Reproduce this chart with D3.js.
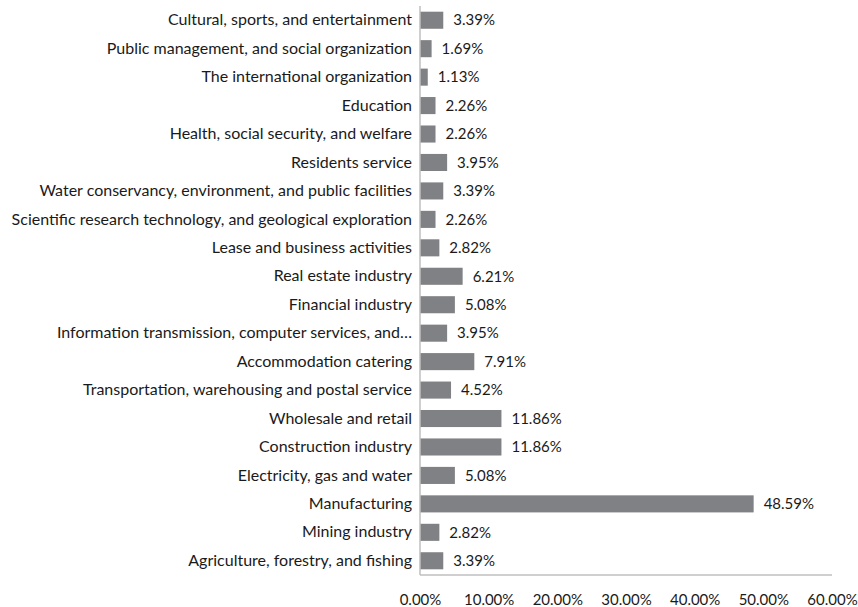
<!DOCTYPE html>
<html>
<head>
<meta charset="utf-8">
<script src="https://cdn.jsdelivr.net/npm/d3@7"></script>
<style>
  html, body { margin: 0; padding: 0; background: #fff; }
  text { font-family: Lato, "Open Sans", sans-serif; }
</style>
</head>
<body>
<svg id="chart" width="858" height="607"></svg>
<script>
// Industry categories, listed bottom to top as drawn
const categories = [
  "Agriculture, forestry, and fishing",
  "Mining industry",
  "Manufacturing",
  "Electricity, gas and water",
  "Construction industry",
  "Wholesale and retail",
  "Transportation, warehousing and postal service",
  "Accommodation catering",
  "Information transmission, computer services, and…",
  "Financial industry",
  "Real estate industry",
  "Lease and business activities",
  "Scientific research technology, and geological exploration",
  "Water conservancy, environment, and public facilities",
  "Residents service",
  "Health, social security, and welfare",
  "Education",
  "The international organization",
  "Public management, and social organization",
  "Cultural, sports, and entertainment"
];
// Share of each industry, in percent
const shares = [3.39, 2.82, 48.59, 5.08, 11.86, 11.86, 4.52, 7.91, 3.95, 5.08,
                6.21, 2.82, 2.26, 3.39, 3.95, 2.26, 2.26, 1.13, 1.69, 3.39];
const xTicks = [0, 10, 20, 30, 40, 50, 60];

const svg = d3.select("#chart");
const plotLeft = 420, plotRight = 832, plotTop = 6, plotBottom = 575;
const ink = "#1a1a1a";

const x = d3.scaleLinear().domain([0, 60]).range([plotLeft, plotRight]);
const y = d3.scaleBand()
  .domain(categories.slice().reverse())
  .range([plotTop, plotBottom])
  .paddingInner(0.4)
  .paddingOuter(0.2);

const rows = categories.map((c, i) => ({ c, v: shares[i] }));

// bars
svg.append("g").selectAll("rect").data(rows).join("rect")
  .attr("x", x(0))
  .attr("y", d => y(d.c))
  .attr("width", d => x(d.v) - x(0))
  .attr("height", y.bandwidth())
  .attr("fill", "#808184");

// value labels
svg.append("g").selectAll("text").data(rows).join("text")
  .attr("x", d => x(d.v) + 10)
  .attr("y", d => y(d.c) + y.bandwidth() / 2)
  .attr("dy", "0.35em")
  .attr("font-size", 15)
  .attr("fill", ink)
  .text(d => d.v.toFixed(2) + "%");

// category axis
const yAxis = svg.append("g")
  .attr("transform", `translate(${plotLeft},0)`)
  .call(d3.axisLeft(y).tickSize(0).tickPadding(8));
yAxis.select(".domain").attr("stroke", "#bfbfbf").attr("stroke-width", 1.5)
  .attr("d", `M0,${plotTop}V${plotBottom}`);
yAxis.selectAll("text").attr("font-size", 16).attr("fill", ink)
  .style("font-family", "Lato, 'Open Sans', sans-serif");

// value axis
const xAxis = svg.append("g")
  .attr("transform", `translate(0,${plotBottom})`)
  .call(d3.axisBottom(x).tickValues(xTicks).tickSize(0).tickPadding(19)
    .tickFormat(d => d.toFixed(2) + "%"));
xAxis.select(".domain").attr("stroke", "#bfbfbf").attr("stroke-width", 1.5)
  .attr("d", `M${plotLeft},0H${plotRight}`);
xAxis.selectAll("text").attr("font-size", 15).attr("fill", ink)
  .style("font-family", "Lato, 'Open Sans', sans-serif");
</script>
</body>
</html>
